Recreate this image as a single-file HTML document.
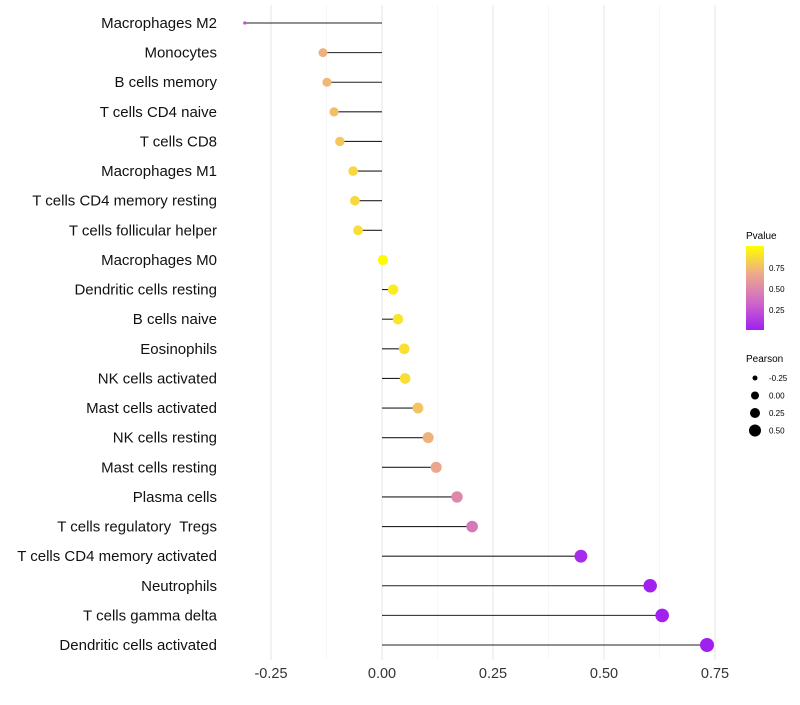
<!DOCTYPE html>
<html><head><meta charset="utf-8"><style>
body{margin:0;background:#fff;font-family:"Liberation Sans",sans-serif}
svg text{font-family:"Liberation Sans",sans-serif;white-space:pre}
</style></head><body>
<svg id="chart" width="800" height="700">
<defs><linearGradient id="pg" x1="0" y1="1" x2="0" y2="0">
<stop offset="0" stop-color="#A020F0"/><stop offset="0.33" stop-color="#CF68C8"/><stop offset="0.66" stop-color="#EDA88E"/><stop offset="1" stop-color="#FFFF00"/></linearGradient></defs>
<g id="grid"></g><g id="marks"></g><g id="labels"></g><g id="xticks"></g>
<g>
<text x="746" y="239" font-size="10">Pvalue</text>
<rect x="746" y="246" width="18" height="84" fill="url(#pg)"/>
<text x="769" y="271" font-size="8">0.75</text>
<text x="769" y="292" font-size="8">0.50</text>
<text x="769" y="313" font-size="8">0.25</text>
</g>
<g id="size-legend">
<text x="746" y="362" font-size="10">Pearson</text>
</g>
</svg>
<script>
const cats=["Macrophages M2","Monocytes","B cells memory","T cells CD4 naive","T cells CD8","Macrophages M1","T cells CD4 memory resting","T cells follicular helper","Macrophages M0","Dendritic cells resting","B cells naive","Eosinophils","NK cells activated","Mast cells activated","NK cells resting","Mast cells resting","Plasma cells","T cells regulatory  Tregs","T cells CD4 memory activated","Neutrophils","T cells gamma delta","Dendritic cells activated"];
const pearson=[-0.309,-0.133,-0.124,-0.108,-0.095,-0.065,-0.061,-0.054,0.002,0.025,0.036,0.05,0.052,0.081,0.104,0.122,0.169,0.203,0.448,0.604,0.631,0.732];
const pvals=[0.2,0.7,0.72,0.75,0.78,0.85,0.85,0.87,0.99,0.92,0.9,0.88,0.87,0.77,0.7,0.65,0.5,0.42,0.05,0.01,0.01,0.001];
const ticks=[-0.25,0,0.25,0.5,0.75];
const sizeLegend=[-0.25,0,0.25,0.5];
const NS="http://www.w3.org/2000/svg";
const x=v=>382+v*444;
const y=i=>23+i*(622/21);
const mn=Math.min(...pearson),mx=Math.max(...pearson);
const r=v=>1.6+5.4*Math.pow(Math.max(0,(v-mn)/(mx-mn)),0.35);
const stops=[[0,[160,32,240]],[0.33,[207,104,200]],[0.66,[237,168,142]],[1,[255,255,0]]];
function col(p){for(let k=1;k<stops.length;k++){if(p<=stops[k][0]){const a=stops[k-1],b=stops[k],t=(p-a[0])/(b[0]-a[0]);return "rgb("+a[1].map((c,j)=>Math.round(c+(b[1][j]-c)*t)).join(",")+")";}}return "rgb(255,255,0)";}
function mk(t,a,p){const e=document.createElementNS(NS,t);for(const k in a)e.setAttribute(k,a[k]);p.appendChild(e);return e;}
const grid=document.getElementById('grid');
for(let v=-0.375;v<=0.75;v+=0.125){const major=Math.abs(v*4-Math.round(v*4))<1e-6;if(x(v)<240)continue;
const l=mk('line',{x1:x(v),x2:x(v),y1:5,y2:660,stroke:major?'#e6e6e6':'#f2f2f2','stroke-width':major?1:0.6},grid);

}
const marks=document.getElementById('marks'),labels=document.getElementById('labels');
cats.forEach((c,i)=>{
const s=mk('line',{x1:x(0),x2:x(pearson[i]),y1:y(i),y2:y(i),stroke:'#222','stroke-width':1.1},marks);


const d=mk('circle',{cx:x(pearson[i]),cy:y(i),r:r(pearson[i]),fill:col(pvals[i])},marks);


const t=mk('text',{x:217,y:y(i)+5,'text-anchor':'end','font-size':15,fill:'#111'},labels);t.textContent=c;

});
const xt=document.getElementById('xticks');
ticks.forEach(v=>{const t=mk('text',{x:x(v),y:678,'text-anchor':'middle','font-size':14.5,fill:'#333'},xt);t.textContent=v.toFixed(2);

});
const sl=document.getElementById('size-legend');
sizeLegend.forEach((v,k)=>{const cy=378+k*17.5;
const c=mk('circle',{cx:755,cy:cy,r:[2.5,4,5,6][k],fill:'#000'},sl);


const t=mk('text',{x:769,y:cy+3,'font-size':8},sl);t.textContent=v.toFixed(2);

});
</script>
</body></html>
